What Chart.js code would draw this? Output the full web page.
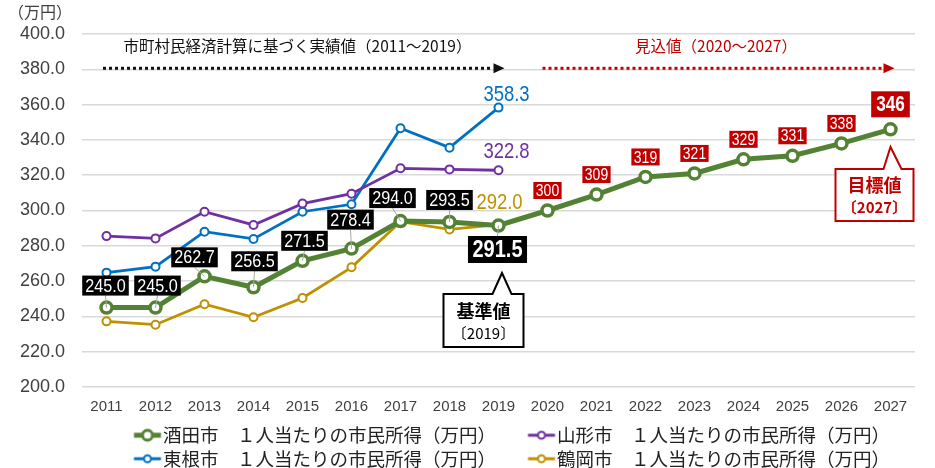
<!DOCTYPE html>
<html><head><meta charset="utf-8">
<script src="https://cdn.jsdelivr.net/npm/chart.js@4.4.1/dist/chart.umd.min.js"></script>
<style>html,body{margin:0;padding:0;background:#fff}#wrap{width:935px;height:468px}</style>
</head><body><div id="wrap"><canvas id="c" width="935" height="468"></canvas></div>
<script>
const years = ['2011','2012','2013','2014','2015','2016','2017','2018','2019','2020','2021','2022','2023','2024','2025','2026','2027'];
const sakata = [245.0,245.0,262.7,256.5,271.5,278.4,294.0,293.5,291.5,300,309,319,321,329,331,338,346];
const yamagata = [285.5,284.2,299.3,291.8,303.9,309.5,323.9,323.3,322.8];
const higashine = [264.8,268.2,288.0,283.9,299.3,303.5,346.6,335.6,358.3];
const tsuruoka = [237.2,235.3,246.9,239.5,250.4,267.8,293.7,289.3,292.0];
const yTickValues = [200,220,240,260,280,300,320,340,360,380,400];
const seriesNames = ['酒田市　１人当たりの市民所得（万円）','山形市　１人当たりの市民所得（万円）','東根市　１人当たりの市民所得（万円）','鶴岡市　１人当たりの市民所得（万円）'];
const unitLabel = '（万円）';
const actualLabel = '市町村民経済計算に基づく実績値（2011～2019）';
const forecastLabel = '見込値（2020～2027）';
const baseLabel = ['基準値','〔2019〕'];
const targetLabel = ['目標値','〔2027〕'];

const GREEN='#548235', BLUE='#0070c0', PURPLE='#7030a0', GOLD='#bf9000', RED='#c00000';
const NUM = "'Liberation Sans',Arial,sans-serif";
const JP = "'Noto Sans CJK JP',sans-serif";

// label offsets (pixels) relative to each Sakata point, 2011-2019
const blackOffsets = [[-1,-22],[2,-22],[-10,-19],[1,-26],[2,-20],[-1,-29],[-8,-23],[0,-22],[-1,24]];

// legend geometry
const LEG_FONT=18.5, LEG_PAD=5, LEG_PITCH=394;
const mctx=document.createElement('canvas').getContext('2d');
mctx.font=LEG_FONT+'px '+JP;
const legTextW=Math.max(...seriesNames.map(s=>mctx.measureText(s).width));
const LEG_BOX=Math.max(30,LEG_PITCH-LEG_FONT/2-legTextW-LEG_PAD);
function makeMarker(color, lw, r, bw){
  const W=Math.ceil(LEG_BOX*2+20), c=document.createElement('canvas'); c.width=W; c.height=18;
  const g=c.getContext('2d');
  const start=(LEG_BOX+LEG_FONT/2-29)-LEG_BOX/2+W/2;
  g.strokeStyle=color; g.lineWidth=lw; g.beginPath(); g.moveTo(start,9); g.lineTo(start+27,9); g.stroke();
  g.beginPath(); g.arc(start+13.5,9,r,0,Math.PI*2); g.fillStyle='#fff'; g.fill(); g.lineWidth=bw; g.stroke();
  return c;
}
const markers=[makeMarker(GREEN,5,5,3),makeMarker(PURPLE,3,3.5,2),makeMarker(BLUE,3,3.5,2),makeMarker(GOLD,3,3.5,2)];

function condText(ctx,text,cx,cy,font,sx,color){
  ctx.save();
  ctx.font=font; ctx.fillStyle=color; ctx.textAlign='center'; ctx.textBaseline='middle';
  ctx.translate(cx,cy); ctx.scale(sx,1); ctx.fillText(text,0,0);
  ctx.restore();
}
function labelBox(ctx,cx,cy,text,font,sx,bg,fg,padX,h){
  ctx.font=font;
  const w=ctx.measureText(text).width*sx+padX*2;
  ctx.fillStyle=bg; ctx.fillRect(cx-w/2,cy-h/2,w,h);
  condText(ctx,text,cx,cy+1,font,sx,fg);
}
function dottedArrow(ctx,x1,x2,y,color){
  ctx.save();
  ctx.strokeStyle=color; ctx.lineWidth=3; ctx.setLineDash([3,3]);
  ctx.beginPath(); ctx.moveTo(x1,y); ctx.lineTo(x2-3,y); ctx.stroke();
  ctx.setLineDash([]);
  ctx.fillStyle=color; ctx.beginPath(); ctx.moveTo(x2-1,y-5); ctx.lineTo(x2+10,y); ctx.lineTo(x2-1,y+5); ctx.closePath(); ctx.fill();
  ctx.restore();
}
function callout(ctx,l,t,r,b,tipX,tipY,bl,br,color,lines,f1,f2){
  ctx.save();
  ctx.beginPath();
  ctx.moveTo(l,t); ctx.lineTo(bl,t); ctx.lineTo(tipX,tipY); ctx.lineTo(br,t); ctx.lineTo(r,t);
  ctx.lineTo(r,b); ctx.lineTo(l,b); ctx.closePath();
  ctx.fillStyle='#fff'; ctx.fill(); ctx.lineWidth=2; ctx.strokeStyle=color; ctx.stroke();
  ctx.fillStyle=color; ctx.textAlign='center'; ctx.textBaseline='middle';
  const cx=(l+r)/2;
  ctx.font=f1; ctx.fillText(lines[0],cx,t+(b-t)*0.32);
  ctx.font=f2; ctx.fillText(lines[1],cx,t+(b-t)*0.74);
  ctx.restore();
}

const annot={
  id:'annot',
  afterDatasetsDraw(chart){
    const ctx=chart.ctx, xs=chart.scales.x, ys=chart.scales.y;
    const px=i=>xs.getPixelForValue(i), py=v=>ys.getPixelForValue(v);
    ctx.save();
    // unit
    ctx.font='16px '+JP; ctx.fillStyle='#404040'; ctx.textAlign='center'; ctx.textBaseline='middle';
    ctx.fillText(unitLabel,40,12);
    // top annotations
    const ay=py(380)-1;
    ctx.font='15.5px '+JP; ctx.fillStyle='#111';
    ctx.fillText(actualLabel,(px(0)+px(8))/2-5,py(393));
    ctx.fillStyle=RED;
    ctx.fillText(forecastLabel,(px(9)+px(16))/2-3,py(393));
    dottedArrow(ctx,px(0)-3.5,px(8)-4,ay,'#111');
    dottedArrow(ctx,px(9)-5,px(16)-6,ay,RED);
    // leaders
    for(let i=0;i<9;i++){
      const x=px(i), y=py(sakata[i]);
      const [dx,dy]=blackOffsets[i];
      const h=(i===8)?27:20;
      const cx=x+dx, cy=y+dy;
      ctx.strokeStyle='#a6a6a6'; ctx.lineWidth=1; ctx.beginPath();
      ctx.moveTo(cx, dy<0?cy+h/2:cy-h/2); ctx.lineTo(x,y); ctx.stroke();
    }
    // black labels 2011-2019
    for(let i=0;i<9;i++){
      const x=px(i), y=py(sakata[i]);
      const [dx,dy]=blackOffsets[i];
      if(i===8) labelBox(ctx,x+dx,y+dy,sakata[i].toFixed(1),'bold 23px '+NUM,0.87,'#000','#fff',4.5,27);
      else labelBox(ctx,x+dx,y+dy,sakata[i].toFixed(1),'18px '+NUM,0.9,'#000','#fff',3,20);
    }
    // red labels 2020-2027
    for(let i=9;i<17;i++){
      const x=px(i), y=py(sakata[i]);
      if(i===16) labelBox(ctx,x,y-25,String(sakata[i]),'bold 22px '+NUM,0.78,RED,'#fff',5,26);
      else labelBox(ctx,x,y-20,String(sakata[i]),'17px '+NUM,0.82,RED,'#fff',2.5,17);
    }
    // colored end values
    const f='22px '+NUM;
    condText(ctx,higashine[8].toFixed(1),px(8)+8,py(higashine[8])-13,f,0.84,BLUE);
    condText(ctx,yamagata[8].toFixed(1),px(8)+8,py(yamagata[8])-18,f,0.84,PURPLE);
    condText(ctx,tsuruoka[8].toFixed(1),px(8)+1,py(tsuruoka[8])-22,f,0.84,GOLD);
    // callouts
    const b8=px(8);
    callout(ctx,b8-55,294,b8+25,347,b8+3.5,273,b8-6,b8+13,'#000',baseLabel,'bold 18px '+JP,'15px '+JP);
    const b16=px(16);
    callout(ctx,b16-55,169,b16+23,221,b16,147,b16-7,b16+11,RED,targetLabel,'bold 18px '+JP,'bold 15px '+JP);
    ctx.restore();
  }
};

Chart.defaults.font.family=JP;
new Chart(document.getElementById('c'),{
  type:'line',
  data:{labels:years,datasets:[
    {label:seriesNames[0],data:sakata,borderColor:GREEN,backgroundColor:GREEN,borderWidth:5,pointRadius:5.5,pointBorderWidth:3.5,pointBackgroundColor:'#fff',pointBorderColor:GREEN,tension:0},
    {label:seriesNames[1],data:yamagata,borderColor:PURPLE,backgroundColor:PURPLE,borderWidth:2.8,pointRadius:4,pointBorderWidth:2,pointBackgroundColor:'#fff',pointBorderColor:PURPLE,tension:0},
    {label:seriesNames[2],data:higashine,borderColor:BLUE,backgroundColor:BLUE,borderWidth:2.8,pointRadius:4,pointBorderWidth:2,pointBackgroundColor:'#fff',pointBorderColor:BLUE,tension:0},
    {label:seriesNames[3],data:tsuruoka,borderColor:GOLD,backgroundColor:GOLD,borderWidth:2.8,pointRadius:4,pointBorderWidth:2,pointBackgroundColor:'#fff',pointBorderColor:GOLD,tension:0}
  ]},
  options:{
    responsive:false,animation:false,devicePixelRatio:1,
    layout:{padding:{top:34,right:20,left:0,bottom:0}},
    plugins:{
      tooltip:{enabled:false},
      legend:{position:'bottom',align:'center',fullSize:false,maxHeight:47,
        labels:{usePointStyle:true,pointStyleWidth:LEG_BOX,padding:LEG_PAD,color:'#222',font:{size:LEG_FONT,family:JP},
          generateLabels(chart){
            const items=Chart.defaults.plugins.legend.labels.generateLabels(chart);
            items.forEach(it=>{it.pointStyle=markers[it.datasetIndex];});
            return items;
          }}}
    },
    scales:{
      x:{offset:true,grid:{display:false},border:{display:false},
        ticks:{font:{size:15,family:NUM},color:'#404040',padding:3,maxRotation:0,autoSkip:false},
        afterFit(s){s.height=34;}},
      y:{min:200,max:400,border:{display:false},
        grid:{color:'#d9d9d9',lineWidth:1.5,drawTicks:false},
        afterBuildTicks(s){s.ticks=yTickValues.map(v=>({value:v}));},
        ticks:{font:{size:18,family:NUM},color:'#404040',padding:17,callback:v=>Number(v).toFixed(1)},
        afterFit(s){s.width=82;}}
    }
  },
  plugins:[annot]
});
</script></body></html>
